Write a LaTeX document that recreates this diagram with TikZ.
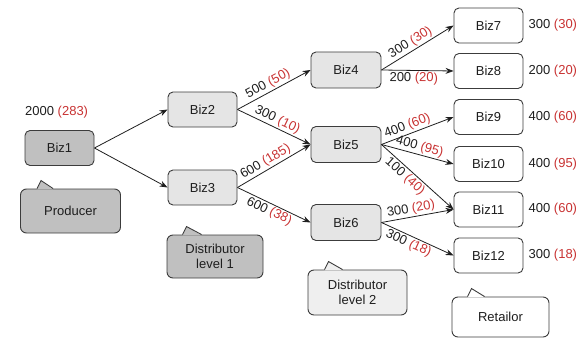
\documentclass[tikz,border=0pt]{standalone}
\usepackage{fontspec}
\setmainfont{Liberation Sans}
\usetikzlibrary{arrows.meta,calc}
\definecolor{redv}{RGB}{200,50,50}
\definecolor{edgec}{RGB}{30,30,30}
\definecolor{linec}{RGB}{60,60,60}
\definecolor{darkfill}{RGB}{192,192,192}
\definecolor{lightfill}{RGB}{229,229,229}
\definecolor{palefill}{RGB}{239,239,239}
\newcommand{\val}[2]{#1 \textcolor{redv}{(#2)}}
\newcommand{\calltab}[5]{%
  \fill[#5] ($(#1.north west)+(#2,0.9)$) -- ($(#1.north west)+(#3,-8)$) -- ($(#1.north west)+(#4,0.9)$) -- cycle;
  \draw[boxline] ($(#1.north west)+(#2,0)$) -- ($(#1.north west)+(#3,-8)$) -- ($(#1.north west)+(#4,0)$);}
\begin{document}
\begin{tikzpicture}[x=1pt,y=-1pt,
  font=\fontsize{13}{15}\selectfont,
  boxline/.style={draw=linec, line width=0.9pt},
  biz/.style={boxline, rounded corners=5pt, minimum width=69pt, minimum height=35pt, inner sep=0pt, text=edgec},
  callbox/.style={boxline, rounded corners=6pt, inner sep=0pt, align=center, text=edgec},
  conn/.style={draw=edgec, line width=0.8pt, -{Stealth[length=8pt,width=6pt]}},
  lab/.style={inner sep=1.5pt, text=edgec, sloped}
]
\useasboundingbox (0,0) rectangle (583,337);

% level 0
\node[biz, fill=darkfill, minimum width=69pt] (b1) at (59.5,148) {Biz1};
\node[anchor=west, inner sep=0pt, text=edgec] (t1) at (25,112) {\val{2000}{283}};
% level 1
\node[biz, fill=lightfill] (b2) at (202.5,109.5) {Biz2};
\node[biz, fill=lightfill] (b3) at (202.5,187.5) {Biz3};
% level 2
\node[biz, fill=lightfill, minimum width=70pt, minimum height=36pt] (b4) at (346,70) {Biz4};
\node[biz, fill=lightfill, minimum width=70pt, minimum height=36pt] (b5) at (346,144.5) {Biz5};
\node[biz, fill=lightfill, minimum width=70pt, minimum height=36pt] (b6) at (346,222.5) {Biz6};
% retail
\node[biz, fill=white] (b7) at (488.5,25.5) {Biz7};
\node[biz, fill=white] (b8) at (488.5,71) {Biz8};
\node[biz, fill=white] (b9) at (488.5,117) {Biz9};
\node[biz, fill=white] (b10) at (488.5,164) {Biz10};
\node[biz, fill=white] (b11) at (488.5,209.5) {Biz11};
\node[biz, fill=white] (b12) at (488.5,255.5) {Biz12};

\foreach \n/\a/\b in {7/300/30, 8/200/20, 9/400/60, 10/400/95, 11/400/60, 12/300/18}
  \node[anchor=west, inner sep=0pt, text=edgec] (r\n) at ($(b\n.east)+(5,0)$) {\val{\a}{\b}};

% callouts
\node[callbox, fill=darkfill, minimum width=100pt, minimum height=44pt] (prod) at (70.5,211) {Producer};
\calltab{prod}{17}{21}{33}{darkfill}
\node[callbox, fill=darkfill, minimum width=96pt, minimum height=43pt] (dist1) at (215,256.5) {Distributor\\level 1};
\calltab{dist1}{16}{20}{35}{darkfill}
\node[callbox, fill=palefill, minimum width=99pt, minimum height=45pt] (dist2) at (357.5,292.5) {Distributor\\level 2};
\calltab{dist2}{17}{21}{35}{palefill}
\node[callbox, fill=white, minimum width=97pt, minimum height=40pt] (ret) at (500.5,317) {Retailor};
\calltab{ret}{16}{20}{33}{white}

% connectors
\draw[conn] (b1.east) -- (b2.west);
\draw[conn] (b1.east) -- (b3.west);
\draw[conn] (b2.east) -- node[lab, above, pos=0.47] {\val{500}{50}} (b4.west);
\draw[conn] (b2.east) -- node[lab, above, pos=0.5] {\val{300}{10}} (b5.west);
\draw[conn] (b3.east) -- node[lab, above, pos=0.44] {\val{600}{185}} (b5.west);
\draw[conn] (b3.east) -- node[lab, below, pos=0.48] {\val{600}{38}} (b6.west);
\draw[conn] (b4.east) -- node[lab, above, pos=0.46] {\val{300}{30}} (b7.west);
\draw[conn] (b4.east) -- node[lab, below, pos=0.45] {\val{200}{20}} (b8.west);
\draw[conn] (b5.east) -- node[lab, above, pos=0.4] {\val{400}{60}} (b9.west);
\draw[conn] (b5.east) -- node[lab, above, pos=0.5] {\val{400}{95}} (b10.west);
\draw[conn] (b5.east) -- node[lab, below, pos=0.4] {\val{100}{40}} (b11.west);
\draw[conn] (b6.east) -- node[lab, above, pos=0.43] {\val{300}{20}} (b11.west);
\draw[conn] (b6.east) -- node[lab, below, pos=0.42] {\val{300}{18}} (b12.west);
\end{tikzpicture}
\end{document}
